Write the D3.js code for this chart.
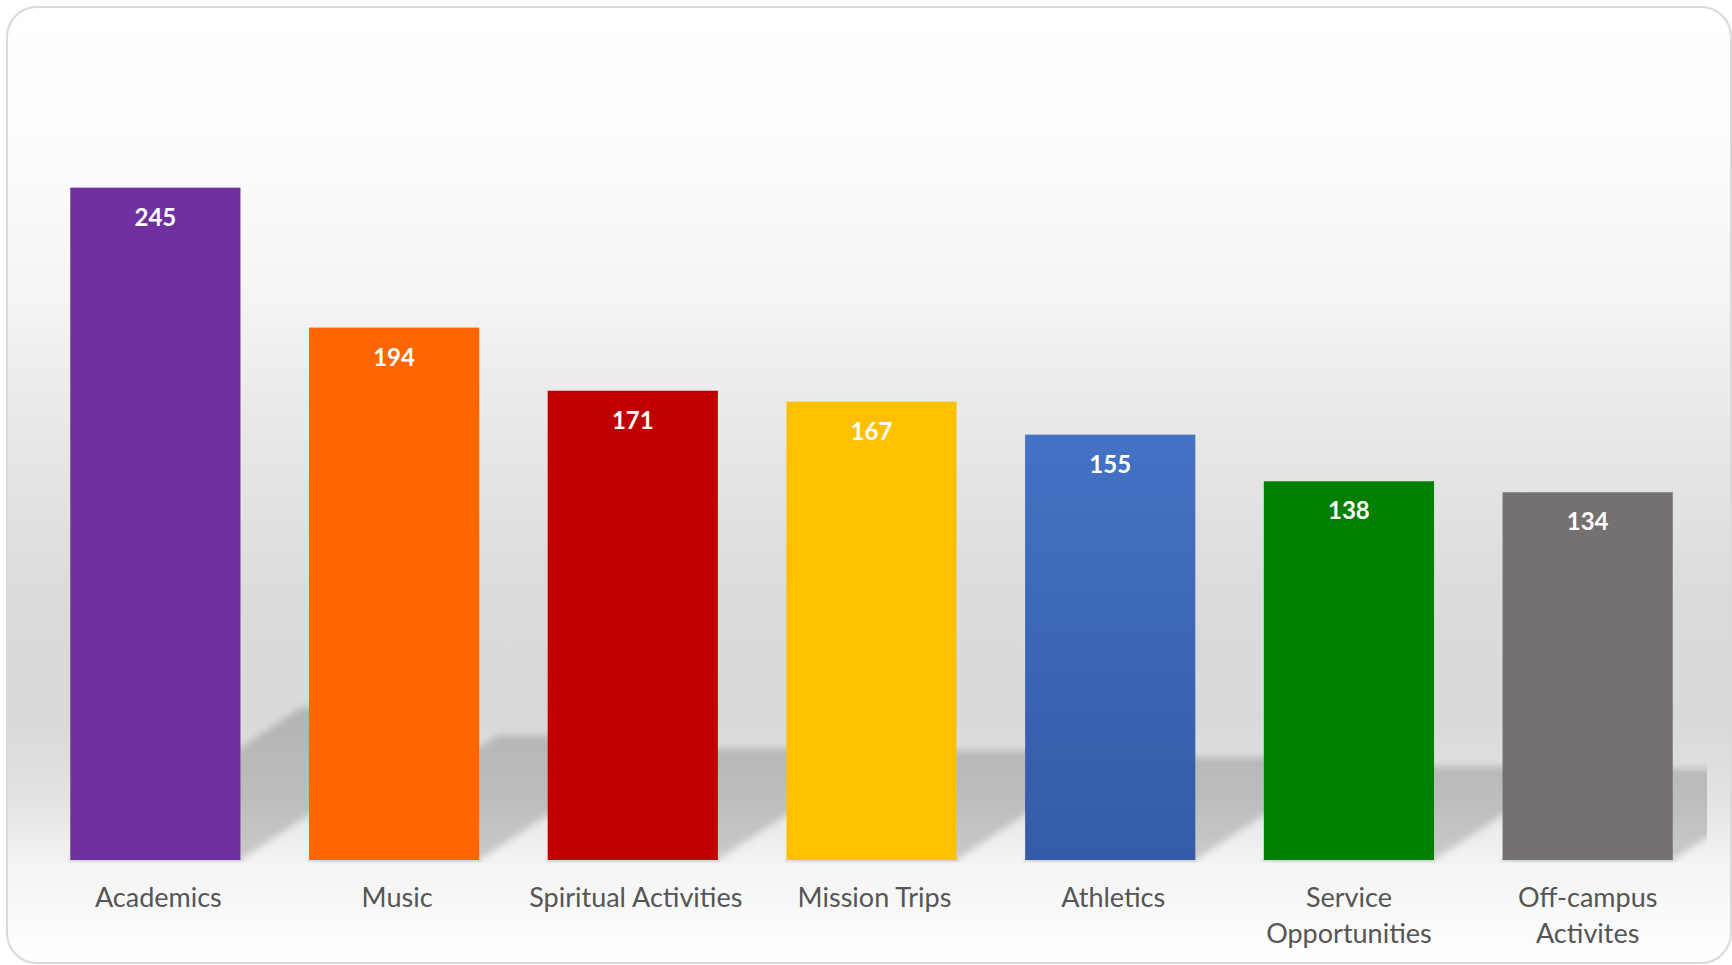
<!DOCTYPE html>
<html>
<head>
<meta charset="utf-8">
<script src="https://cdn.jsdelivr.net/npm/d3@7"></script>
<style>
  html, body { margin: 0; padding: 0; background: #ffffff; }
  svg { display: block; }
</style>
</head>
<body>
<svg id="chart" width="1732" height="965"></svg>
<script>
// ---- data ----
const categories = ["Academics", "Music", "Spiritual Activities", "Mission Trips", "Athletics", "Service Opportunities", "Off-campus Activites"];
const values = [245, 194, 171, 167, 155, 138, 134];
const colors = ["#7030a0", "#ff6600", "#c00000", "#ffc000", "#4472c4", "#008000", "#767171"];
const yMax = 300;

// ---- layout ----
const W = 1732, H = 965;
const plot = { left: 36, right: 1707, top: 36.7, bottom: 860 };
const svg = d3.select("#chart");
const defs = svg.append("defs");

// card background gradient
const bg = defs.append("linearGradient").attr("id", "bgGrad")
  .attr("gradientUnits", "userSpaceOnUse").attr("x1", 0).attr("x2", 0).attr("y1", 7).attr("y2", 963);
[[0, "#ffffff"], [0.15, "#fcfcfc"], [0.306, "#f4f4f4"], [0.463, "#e6e6e6"], [0.62, "#dbdbdb"],
 [0.746, "#d9d9d9"], [0.83, "#e3e3e3"], [0.892, "#f3f3f3"], [1, "#ffffff"]]
  .forEach(([o, c]) => bg.append("stop").attr("offset", o).attr("stop-color", c));

// bar gradient for the blue bar
const blue = defs.append("linearGradient").attr("id", "blueGrad").attr("x1", 0).attr("x2", 0).attr("y1", 0).attr("y2", 1);
blue.append("stop").attr("offset", 0).attr("stop-color", "#4472c4");
blue.append("stop").attr("offset", 1).attr("stop-color", "#335ba8");

// shadow blur
defs.append("filter").attr("id", "blur").attr("x", "-10%").attr("y", "-10%").attr("width", "120%").attr("height", "120%")
  .append("feGaussianBlur").attr("stdDeviation", 3.5);
defs.append("filter").attr("id", "blurSmall")
  .append("feGaussianBlur").attr("stdDeviation", 1.2);

defs.append("clipPath").attr("id", "plotClip").append("rect")
  .attr("x", plot.left).attr("y", plot.top).attr("width", plot.right - plot.left).attr("height", plot.bottom - plot.top + 2);

// card
svg.append("rect").attr("x", 7).attr("y", 7).attr("width", 1724).attr("height", 956)
  .attr("rx", 30).attr("ry", 30).attr("fill", "url(#bgGrad)")
  .attr("stroke", "#d9d9d9").attr("stroke-width", 2);

// scales
const x = d3.scaleBand().domain(categories).range([plot.left, plot.right])
  .paddingInner(0.287).paddingOuter(0.1435);
const y = d3.scaleLinear().domain([0, yMax]).range([plot.bottom, plot.top]);

const data = categories.map((c, i) => ({ c, v: values[i], col: colors[i] }));

// perspective shadows
const slope = 0.66;
const shadowG = svg.append("g").attr("clip-path", "url(#plotClip)")
  .append("g").attr("filter", "url(#blur)");
shadowG.selectAll("path").data(data).join("path")
  .attr("d", d => {
    const x0 = x(d.c), x1 = x(d.c) + x.bandwidth();
    const base = y(0), h = y(0) - y(d.v);
    const sh = 0.2 * h + 18;
    const s = sh / slope;
    return `M${x0},${base}L${x1},${base}L${x1 + s},${base - sh}L${x0 + s},${base - sh}Z`;
  })
  .attr("fill", "#000").attr("fill-opacity", 0.17);

// faint contact shadow under bars
svg.append("g").selectAll("rect").data(data).join("rect")
  .attr("x", d => x(d.c) - 2).attr("y", y(0) - 1)
  .attr("width", x.bandwidth() + 4).attr("height", 3)
  .attr("fill", "#000").attr("fill-opacity", 0.07).attr("filter", "url(#blurSmall)");

// bars
svg.append("g").selectAll("rect").data(data).join("rect")
  .attr("x", d => x(d.c)).attr("y", d => y(d.v))
  .attr("width", x.bandwidth()).attr("height", d => y(0) - y(d.v))
  .attr("fill", d => d.col === "#4472c4" ? "url(#blueGrad)" : d.col);

// value labels
svg.append("g").selectAll("text").data(data).join("text")
  .attr("x", d => x(d.c) + x.bandwidth() / 2)
  .attr("y", d => y(d.v) + 38)
  .attr("text-anchor", "middle")
  .attr("font-family", "Lato, 'Open Sans', sans-serif")
  .attr("font-weight", 700).attr("font-size", 24)
  .attr("fill", "#ffffff")
  .text(d => d.v);

// category axis
const axis = svg.append("g").attr("transform", `translate(0,${plot.bottom})`)
  .call(d3.axisBottom(x).tickSize(0).tickPadding(0));
axis.select(".domain").remove();
axis.selectAll("text")
  .attr("font-family", "Lato, 'Open Sans', sans-serif")
  .attr("font-size", 27)
  .attr("fill", "#555555")
  .attr("y", 47).attr("dy", 0).attr("dx", 3)
  .each(function (d) {
    const t = d3.select(this);
    const maxW = x.step() * 0.95;
    if (this.getComputedTextLength() > maxW) {
      const words = d.split(" ");
      t.text(null);
      const lines = [];
      let line = [];
      words.forEach(w => {
        line.push(w);
        t.text(line.join(" "));
        if (this.getComputedTextLength() > maxW && line.length > 1) {
          line.pop(); lines.push(line.join(" ")); line = [w];
        }
      });
      lines.push(line.join(" "));
      t.text(null).attr("dx", 0);
      lines.forEach((l, i) => t.append("tspan").attr("x", 0).attr("dy", i === 0 ? 0 : 36).text(l));
    }
  });
</script>
</body>
</html>
